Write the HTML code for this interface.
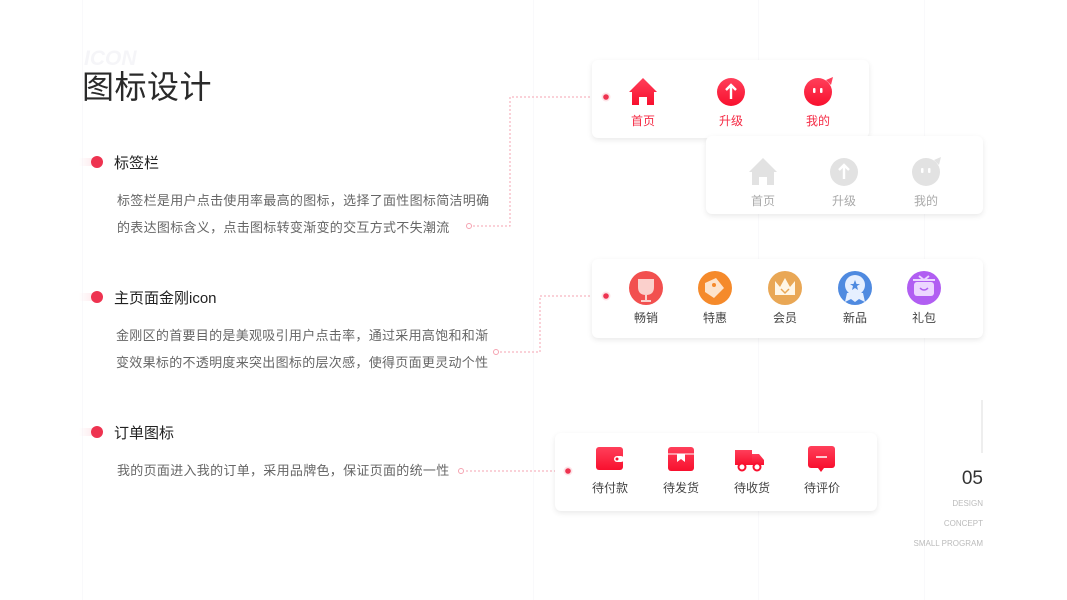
<!DOCTYPE html>
<html><head><meta charset="utf-8"><style>
*{margin:0;padding:0;box-sizing:border-box}
body{width:1067px;height:600px;background:#fff;position:relative;overflow:hidden;font-family:"Liberation Sans","Noto Sans CJK SC",sans-serif;}
.a{position:absolute}
.vl{position:absolute;top:0;width:1px;height:600px;background:#f9f9fb}
.card{position:absolute;background:#fff;border-radius:6px;box-shadow:0 2px 6px rgba(0,0,0,0.09)}
.lab{position:absolute;font-size:12px;width:60px;margin-left:-30px;text-align:center;white-space:nowrap}
.bul{position:absolute;width:30px;height:12px}
.bul:before{content:"";position:absolute;left:0;top:2px;width:20px;height:8px;background:linear-gradient(90deg,rgba(255,255,255,0),#fde3e7)}
.bul:after{content:"";position:absolute;left:12px;top:0;width:12px;height:12px;border-radius:50%;background:#ee3350}
.h{position:absolute;font-size:15px;color:#222}
.p{position:absolute;font-size:13px;color:#666;letter-spacing:0.3px;line-height:27px;white-space:nowrap}
.r{position:absolute;right:84px;font-size:8px;color:#bbb;text-align:right;white-space:nowrap}
</style></head><body>
<div class="vl" style="left:82px"></div><div class="vl" style="left:533px"></div><div class="vl" style="left:758px"></div><div class="vl" style="left:924px"></div>
<div class="a" style="left:84px;top:47px;font-size:21px;color:#f5f5f8;font-style:italic;font-weight:bold">ICON</div>
<div class="a" style="left:82px;top:62px;font-size:32px;color:#2a2a2a;letter-spacing:0.5px">图标设计</div>

<div class="bul" style="left:79px;top:156px"></div>
<div class="h" style="left:114px;top:152px">标签栏</div>
<div class="p" style="left:117px;top:187px">标签栏是用户点击使用率最高的图标，选择了面性图标简洁明确<br>的表达图标含义，点击图标转变渐变的交互方式不失潮流</div>

<div class="bul" style="left:79px;top:291px"></div>
<div class="h" style="left:114px;top:287px">主页面金刚icon</div>
<div class="p" style="left:116px;top:322px">金刚区的首要目的是美观吸引用户点击率，通过采用高饱和和渐<br>变效果标的不透明度来突出图标的层次感，使得页面更灵动个性</div>

<div class="bul" style="left:79px;top:426px"></div>
<div class="h" style="left:114px;top:422px">订单图标</div>
<div class="p" style="left:117px;top:457px">我的页面进入我的订单，采用品牌色，保证页面的统一性</div>

<svg class="a" style="left:0;top:0" width="1067" height="600">
<g fill="none" stroke="#f5a3b1" stroke-width="1" stroke-dasharray="2,2">
<path d="M602 97H510V226H472"/><path d="M602 296H540V352H499"/><path d="M564 471H464"/>
</g>
<g fill="#fff" stroke="#f5a3b1"><circle cx="469" cy="226" r="2.5"/><circle cx="496" cy="352" r="2.5"/><circle cx="461" cy="471" r="2.5"/></g>
<line x1="982" y1="400" x2="982" y2="453" stroke="#ddd"/>
</svg>

<div class="card" style="left:592px;top:60px;width:277px;height:78px"></div>
<div class="card" style="left:706px;top:136px;width:277px;height:78px"></div>
<div class="card" style="left:592px;top:259px;width:391px;height:79px"></div>
<div class="card" style="left:555px;top:433px;width:322px;height:78px"></div>

<svg class="a" style="left:0;top:0" width="1067" height="600">
<defs>
<linearGradient id="rg" x1="0" y1="0" x2="0" y2="1"><stop offset="0" stop-color="#ff3f5a"/><stop offset="1" stop-color="#f8102e"/></linearGradient>
</defs>
<circle cx="606" cy="97" r="4.5" fill="#fde3e7"/><circle cx="606" cy="97" r="2.8" fill="#ee3350"/>
<circle cx="606" cy="296" r="4.5" fill="#fde3e7"/><circle cx="606" cy="296" r="2.8" fill="#ee3350"/>
<circle cx="568" cy="471" r="4.5" fill="#fde3e7"/><circle cx="568" cy="471" r="2.8" fill="#ee3350"/>
<path d="M643 78 L657 92 H654 V105 H647 V97 H639 V105 H632 V92 H629Z" fill="url(#rg)"/>
<circle cx="731" cy="92" r="14" fill="url(#rg)"/><path d="M731 99V85M726 90L731 85L736 90" stroke="#fff" stroke-width="2.4" fill="none"/>
<circle cx="818" cy="92" r="14" fill="url(#rg)"/><path d="M826 80L833 77L831 85Z" fill="#ff3f5a"/><rect x="813" y="88" width="2.5" height="5" rx="1" fill="#fff"/><rect x="820" y="88" width="2.5" height="5" rx="1" fill="#fff"/>
<path d="M763 158 L777 172 H774 V185 H767 V177 H759 V185 H752 V172 H749Z" fill="#e2e2e2"/>
<circle cx="844" cy="172" r="14" fill="#e2e2e2"/><path d="M844 179V165M839 170L844 165L849 170" stroke="#fff" stroke-width="2.4" fill="none"/>
<circle cx="926" cy="172" r="14" fill="#e2e2e2"/><path d="M934 160L941 157L939 165Z" fill="#e2e2e2"/><rect x="921" y="168" width="2.5" height="5" rx="1" fill="#fff"/><rect x="928" y="168" width="2.5" height="5" rx="1" fill="#fff"/>
<circle cx="646" cy="288" r="17" fill="#f2504f"/><path d="M638 279H654V287Q654 295 646 295Q638 295 638 287Z" fill="#fbd0cc"/><path d="M646 295V301M641 301H651" stroke="#fbd0cc" stroke-width="2"/>
<circle cx="715" cy="288" r="17" fill="#f58a2b"/><path d="M705 283L716 278L724 288L714 298L705 292Z" fill="#fde4cc"/><circle cx="714" cy="285" r="2" fill="#f58a2b"/>
<circle cx="785" cy="288" r="17" fill="#e9a755"/><path d="M775 295V281L780 287L785 278L790 287L795 281V295Z" fill="#fff6e6"/><path d="M781 289L785 293L789 289" stroke="#e9a755" stroke-width="1.5" fill="none"/>
<circle cx="855" cy="288" r="17" fill="#4f8ae0"/><circle cx="855" cy="285" r="10" fill="#e6efff"/><path d="M847 293L845 302L851 299L855 302L859 299L865 302L863 293" fill="#e6efff"/><path d="M855 280L856.5 284L860 284L857 286L858 290L855 288L852 290L853 286L850 284L853.5 284Z" fill="#4f8ae0"/>
<circle cx="924" cy="288" r="17" fill="#b15ef2"/><rect x="914" y="282" width="20" height="14" rx="3" fill="#ecd6ff"/><path d="M913 280H935M919 276L924 280L929 276" stroke="#ecd6ff" stroke-width="2" fill="none"/><path d="M920 288Q924 292 928 288" stroke="#b15ef2" stroke-width="1.5" fill="none"/>
<rect x="596" y="447" width="27" height="23" rx="3" fill="url(#rg)"/><rect x="614" y="456" width="10" height="6" rx="3" fill="#fff"/><circle cx="617" cy="459" r="1.5" fill="#f8102e"/>
<rect x="668" y="447" width="26" height="24" rx="3" fill="url(#rg)"/><path d="M668 454H694" stroke="#fff" stroke-width="1"/><path d="M677 454V462L681 459L685 462V454Z" fill="#fff"/>
<path d="M735 450H752V465H735Z" fill="url(#rg)"/><path d="M752 454H759L764 460V465H752Z" fill="url(#rg)"/><circle cx="742" cy="467" r="3.5" fill="#fff" stroke="#f8102e" stroke-width="2"/><circle cx="757" cy="467" r="3.5" fill="#fff" stroke="#f8102e" stroke-width="2"/>
<rect x="808" y="446" width="27" height="22" rx="3" fill="url(#rg)"/><path d="M818 468L821 472L824 468Z" fill="#f8102e"/><path d="M816 457H827" stroke="#fff" stroke-width="1.5"/>
</svg>

<div class="lab" style="left:643px;top:112px;color:#f52b45">首页</div>
<div class="lab" style="left:731px;top:112px;color:#f52b45">升级</div>
<div class="lab" style="left:818px;top:112px;color:#f52b45">我的</div>
<div class="lab" style="left:763px;top:192px;color:#aaa">首页</div>
<div class="lab" style="left:844px;top:192px;color:#aaa">升级</div>
<div class="lab" style="left:926px;top:192px;color:#aaa">我的</div>
<div class="lab" style="left:646px;top:309px;color:#444">畅销</div>
<div class="lab" style="left:715px;top:309px;color:#444">特惠</div>
<div class="lab" style="left:785px;top:309px;color:#444">会员</div>
<div class="lab" style="left:855px;top:309px;color:#444">新品</div>
<div class="lab" style="left:924px;top:309px;color:#444">礼包</div>
<div class="lab" style="left:610px;top:479px;color:#444">待付款</div>
<div class="lab" style="left:681px;top:479px;color:#444">待发货</div>
<div class="lab" style="left:752px;top:479px;color:#444">待收货</div>
<div class="lab" style="left:822px;top:479px;color:#444">待评价</div>

<div class="r" style="top:468px;font-size:19px;color:#333">05</div>
<div class="r" style="top:499px">DESIGN</div>
<div class="r" style="top:519px">CONCEPT</div>
<div class="r" style="top:539px">SMALL PROGRAM</div>
</body></html>
